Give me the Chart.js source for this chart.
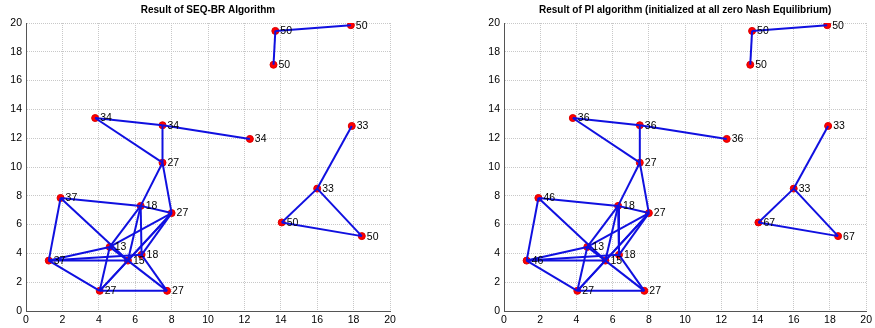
<!DOCTYPE html>
<html>
<head>
<meta charset="utf-8">
<script src="https://cdn.jsdelivr.net/npm/chart.js@4.4.0/dist/chart.umd.min.js"></script>
<style>
  body { margin: 0; background: #fff; }
  .wrap { position: absolute; top: 0; }
</style>
</head>
<body>
<div class="wrap" style="left:0"><canvas id="leftChart" width="440" height="328"></canvas></div>
<div class="wrap" style="left:440px"><canvas id="rightChart" width="435" height="328"></canvas></div>
<script>
// node positions (same network in both panels)
const nodeX = [3.8, 7.5, 12.3, 7.5, 1.9, 6.3, 8.0, 4.6, 6.35, 1.25, 5.6, 4.05, 7.75, 13.7, 17.85, 13.6, 17.9, 16.0, 14.05, 18.45];
const nodeY = [13.4, 12.9, 11.95, 10.3, 7.85, 7.3, 6.8, 4.45, 3.9, 3.5, 3.5, 1.4, 1.4, 19.45, 19.85, 17.1, 12.85, 8.5, 6.15, 5.2];

// node labels for each algorithm
const seqBrLabels = [34, 34, 34, 27, 37, 18, 27, 13, 18, 37, 15, 27, 27, 50, 50, 50, 33, 33, 50, 50];
const piLabels    = [36, 36, 36, 27, 46, 18, 27, 13, 18, 46, 15, 27, 27, 50, 50, 50, 33, 33, 67, 67];

// links between nodes (index pairs)
const edges = [
  [0, 1], [1, 2], [0, 3], [1, 3], [3, 5], [3, 6], [4, 5], [5, 6],
  [4, 9], [4, 10], [10, 12], [9, 7], [9, 10], [9, 8], [9, 11], [11, 12],
  [11, 7], [11, 6], [11, 10], [7, 6], [7, 5], [7, 10], [5, 8], [5, 10],
  [6, 10], [6, 8], [8, 12],
  [13, 14], [13, 15], [16, 17], [17, 18], [17, 19], [18, 19]
];

const axisTicks = [0, 2, 4, 6, 8, 10, 12, 14, 16, 18, 20];
const tickFont = { family: "'Liberation Sans', Arial, sans-serif", size: 10.5 };

function makeChart(canvasId, title, nodeLabels, padLeft, padRight) {
  const ctx = document.getElementById(canvasId).getContext('2d');

  // one line dataset per edge
  const datasets = edges.map(function(e) {
    return {
      data: [{ x: nodeX[e[0]], y: nodeY[e[0]] }, { x: nodeX[e[1]], y: nodeY[e[1]] }],
      showLine: true,
      borderColor: '#1010e0',
      borderWidth: 2,
      pointRadius: 0,
      order: 0
    };
  });

  // red nodes drawn under the lines
  datasets.push({
    data: nodeX.map(function(x, i) { return { x: x, y: nodeY[i] }; }),
    pointRadius: 3.5,
    backgroundColor: '#ff0000',
    borderColor: '#dd0000',
    borderWidth: 1,
    order: 1
  });

  const nodeLabelPlugin = {
    id: 'nodeLabels',
    afterDatasetsDraw: function(chart) {
      const c = chart.ctx;
      const xs = chart.scales.x, ys = chart.scales.y;
      c.save();
      c.font = "10.5px 'Liberation Sans', Arial, sans-serif";
      c.fillStyle = '#000';
      c.textBaseline = 'middle';
      c.textAlign = 'left';
      nodeLabels.forEach(function(lab, i) {
        c.fillText(String(lab), xs.getPixelForValue(nodeX[i]) + 5, ys.getPixelForValue(nodeY[i]) + 0.5);
      });
      // title over the plot area
      const area = chart.chartArea;
      c.font = "bold 10px 'Liberation Sans', Arial, sans-serif";
      c.textAlign = 'center';
      c.fillText(title, (area.left + area.right) / 2, 10);
      c.restore();
    }
  };

  return new Chart(ctx, {
    type: 'scatter',
    data: { datasets: datasets },
    options: {
      responsive: false,
      animation: false,
      layout: { padding: { left: padLeft, right: padRight, top: 23, bottom: 0 } },
      plugins: { legend: { display: false }, tooltip: { enabled: false } },
      scales: {
        x: {
          min: 0, max: 20,
          afterBuildTicks: function(scale) { scale.ticks = axisTicks.map(function(v) { return { value: v }; }); },
          afterFit: function(scale) { scale.height = 17; },
          grid: { color: '#c8c8c8', drawTicks: false },
          border: { display: true, color: '#555', dash: [1, 1] },
          ticks: { font: tickFont, color: '#000', padding: 3, maxRotation: 0 }
        },
        y: {
          min: 0, max: 20,
          afterBuildTicks: function(scale) { scale.ticks = axisTicks.map(function(v) { return { value: v }; }); },
          afterFit: function(scale) { scale.width = 26; },
          grid: { color: '#c8c8c8', drawTicks: false },
          border: { display: true, color: '#555', dash: [1, 1] },
          ticks: { font: tickFont, color: '#000', padding: 4 }
        }
      }
    },
    plugins: [nodeLabelPlugin]
  });
}

makeChart('leftChart', 'Result of SEQ-BR Algorithm', seqBrLabels, 0, 50);
makeChart('rightChart', 'Result of PI algorithm (initialized at all zero Nash Equilibrium)', piLabels, 38, 7);
</script>
</body>
</html>
